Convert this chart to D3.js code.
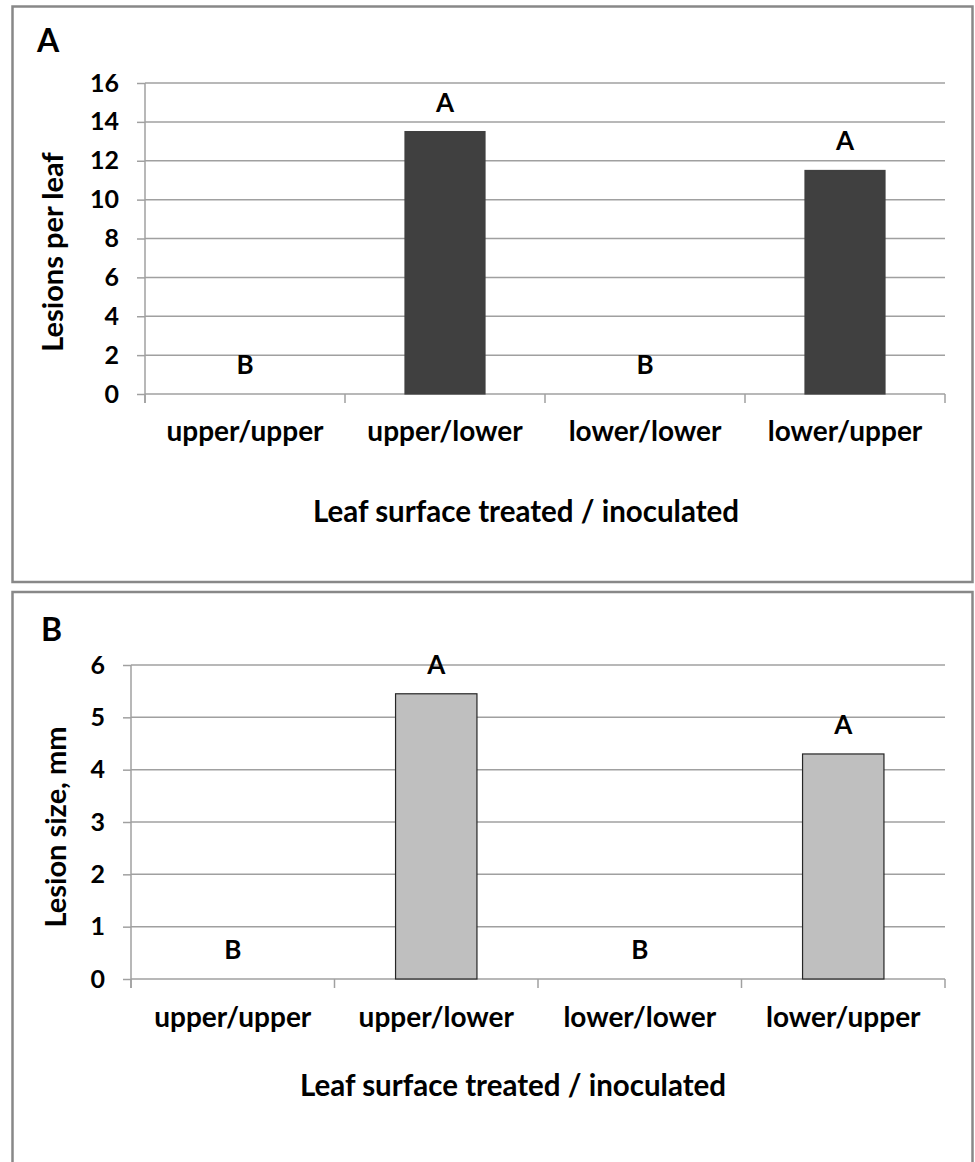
<!DOCTYPE html>
<html>
<head>
<meta charset="utf-8">
<script src="https://cdn.jsdelivr.net/npm/d3@7"></script>
<style>
  body{margin:0;background:#fff;}
  svg text{font-family:Lato,"Open Sans",sans-serif;font-weight:bold;fill:#000;}
</style>
</head>
<body>
<div id="chart"></div>
<script>
// data
const categories=["upper/upper","upper/lower","lower/lower","lower/upper"];
const lesionsPerLeaf=[0,13.5,0,11.5];
const lesionSize=[0,5.45,0,4.3];
const lettersA=["B","A","B","A"];
const lettersB=["B","A","B","A"];
const ticksA=[0,2,4,6,8,10,12,14,16];
const ticksB=[0,1,2,3,4,5,6];

(function(){
    let svg=d3.select("#chart").append("svg")
        .attr("width",975).attr("height",1162);
    svg.append("rect").attr("width",975).attr("height",1162).attr("fill","#fff");

    function panel(cfg){
        //frame round the panel
        svg.append("rect")
            .attr("x",12.5).attr("y",cfg.frameTop)
            .attr("width",960).attr("height",cfg.frameHeight)
            .attr("fill","none").attr("stroke","#888").attr("stroke-width",2.5);
        svg.append("text").attr("x",cfg.letterX).attr("y",cfg.letterY)
            .style("font-size","32px").text(cfg.letter);

        let x=d3.scaleBand().domain(categories).range([cfg.left,cfg.right])
            .paddingInner(cfg.pad).paddingOuter(cfg.pad/2);
        let y=d3.scaleLinear().domain([0,d3.max(cfg.ticks)]).range([cfg.bottom,cfg.top]);
        let g=svg.append("g");

        //grid lines
        g.append("g").selectAll("line").data(cfg.ticks).join("line")
            .attr("x1",cfg.left).attr("x2",cfg.right)
            .attr("y1",d=>y(d)).attr("y2",d=>y(d))
            .attr("stroke","#a0a0a0").attr("stroke-width",1.5);

        let ya=g.append("g").attr("transform","translate("+cfg.left+",0)")
            .call(d3.axisLeft(y).tickValues(cfg.ticks).tickFormat(d3.format("d"))
                .tickSize(8).tickPadding(18));
        ya.select(".domain").remove();
        ya.selectAll("line").attr("stroke","#a0a0a0").attr("stroke-width",1.5);
        ya.selectAll("text").style("font-size","25px").attr("fill","#000");

        //axis lines and category ticks
        g.append("line").attr("x1",cfg.left).attr("x2",cfg.left)
            .attr("y1",cfg.top).attr("y2",cfg.bottom+9)
            .attr("stroke","#a0a0a0").attr("stroke-width",1.5);
        let bounds=d3.range(categories.length+1).map(i=>cfg.left+i*x.step());
        g.append("g").selectAll("line").data(bounds).join("line")
            .attr("x1",d=>d).attr("x2",d=>d)
            .attr("y1",cfg.bottom).attr("y2",cfg.bottom+9)
            .attr("stroke","#a0a0a0").attr("stroke-width",1.5);

        g.append("g").selectAll("rect").data(cfg.values).join("rect")
            .attr("x",(d,i)=>x(categories[i]))
            .attr("width",x.bandwidth())
            .attr("y",d=>y(d))
            .attr("height",d=>cfg.bottom-y(d))
            .attr("fill",cfg.fill).attr("stroke",cfg.stroke).attr("stroke-width",1.2);

        g.append("g").selectAll("text").data(cfg.values).join("text")
            .attr("x",(d,i)=>x(categories[i])+x.bandwidth()/2)
            .attr("y",d=>y(d)-20)
            .attr("text-anchor","middle")
            .style("font-size","26px")
            .text((d,i)=>cfg.letters[i]);

        let xa=g.append("g").attr("transform","translate(0,"+cfg.bottom+")")
            .call(d3.axisBottom(x).tickSize(0).tickPadding(0));
        xa.select(".domain").remove();
        xa.selectAll("text").attr("dy",null).attr("y",cfg.catLabelY-cfg.bottom)
            .style("font-size","28px").attr("fill","#000");

        svg.append("text").attr("x",cfg.xTitleX).attr("y",cfg.xTitleY)
            .attr("text-anchor","middle").style("font-size","29.5px").text(cfg.xTitle);
        svg.append("text")
            .attr("transform","translate("+cfg.yTitleX+","+cfg.yTitleY+") rotate(-90)")
            .attr("text-anchor","middle").style("font-size","29px").text(cfg.yTitle);
    }

    panel({frameTop:6.5,frameHeight:575.5,letter:"A",letterX:37,letterY:52,
        left:145,right:945,top:83,bottom:394,pad:0.6,ticks:ticksA,values:lesionsPerLeaf,
        letters:lettersA,fill:"#404040",stroke:"#404040",catLabelY:441,xTitleX:526,xTitleY:522,
        xTitle:"Leaf surface treated / inoculated",yTitleX:63,yTitleY:252,yTitle:"Lesions per leaf"});
    panel({frameTop:592,frameHeight:600,letter:"B",letterX:41,letterY:641,
        left:131,right:945,top:665,bottom:979,pad:0.6,ticks:ticksB,values:lesionSize,
        letters:lettersB,fill:"#bfbfbf",stroke:"#262626",catLabelY:1027,xTitleX:513,xTitleY:1096,
        xTitle:"Leaf surface treated / inoculated",yTitleX:66,yTitleY:827,yTitle:"Lesion size, mm"});
})();
</script>
</body>
</html>
